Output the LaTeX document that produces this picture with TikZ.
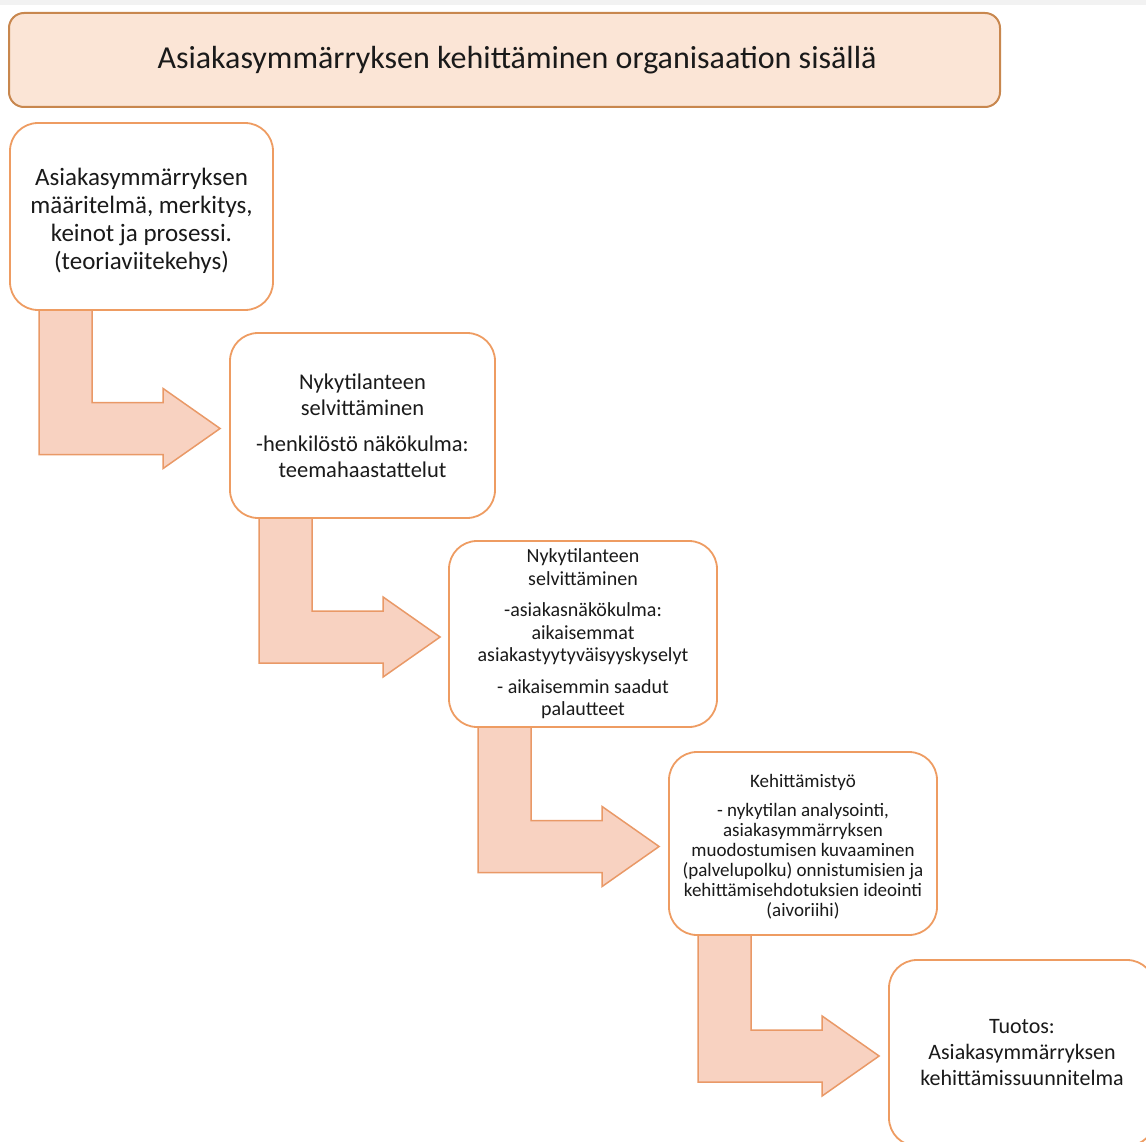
\documentclass[tikz,border=0pt]{standalone}
\usepackage{fontspec}
\setmainfont{Carlito}
\usetikzlibrary{calc,backgrounds}

\definecolor{titlefill}{HTML}{FBE5D6}
\definecolor{titleedge}{HTML}{C8874E}
\definecolor{boxedge}{HTML}{EE9C62}
\definecolor{arrowfill}{HTML}{F8D2C1}
\definecolor{arrowedge}{HTML}{E99967}
\definecolor{ink}{HTML}{1A1A1A}
\definecolor{topband}{HTML}{F2F2F2}

\tikzset{
  stepbox/.style={draw=boxedge, line width=1.8pt, rounded corners=28pt,
    fill=white, align=center, text=ink, inner sep=0pt},
  titlebox/.style={draw=titleedge, fill=titlefill, line width=2pt,
    rounded corners=15pt, text=ink, inner sep=0pt},
  bentarrow/.style={draw=arrowedge, fill=arrowfill, line width=1.5pt,
    line join=miter},
}
\newcommand\fsz[2]{\fontsize{#1pt}{#2pt}\selectfont}

% L-shaped block arrow: down out of box #1, then right into box #2
\newcommand\bendarrow[2]{%
  \draw[bentarrow] let \p1=(#1.south west), \p2=($(#2.west)+(0,3)$) in
    (\x1+30pt,\y1+2pt) -- (\x1+83pt,\y1+2pt) -- (\x1+83pt,\y2+26pt)
    -- (\x1+154pt,\y2+26pt) -- (\x1+154pt,\y2+40pt) -- (\x1+211pt,\y2)
    -- (\x1+154pt,\y2-40pt) -- (\x1+154pt,\y2-26pt) -- (\x1+30pt,\y2-26pt)
    -- cycle;}

\begin{document}
\begin{tikzpicture}[x=1pt, y=-1pt]
  \useasboundingbox (0,0) rectangle (1146,1142);
  \clip (0,0) rectangle (1146,1142);
  \fill[topband] (0,0) rectangle (1146,5);

  % heading
  \node[titlebox, minimum width=991, minimum height=94,
        font=\fsz{32}{36}] (t) at (504.5,60)
        {\hspace*{25pt}Asiakasymmärryksen kehittäminen organisaation sisällä};

  % process steps
  \node[stepbox, minimum width=263, minimum height=187,
        font=\fsz{25}{28}] (b1) at (141.5,216.5)
        {\rule{0pt}{27pt}Asiakasymmärryksen\\määritelmä, merkitys,\\keinot ja prosessi.\\(teoriaviitekehys)};

  \node[stepbox, minimum width=265, minimum height=185,
        font=\fsz{22.5}{26}] (b2) at (362.5,425.5)
        {Nykytilanteen\\selvittäminen\\[10pt]-henkilöstö näkökulma:\\teemahaastattelut};

  \node[stepbox, minimum width=268, minimum height=186,
        font=\fsz{20}{22.5}] (b3) at (583,634)
        {Nykytilanteen\\selvittäminen\\[9pt]-asiakasnäkökulma:\\aikaisemmat\\asiakastyytyväisyyskyselyt\\[9pt]- aikaisemmin saadut\\palautteet};

  \node[stepbox, minimum width=268, minimum height=183,
        font=\fsz{19}{20}] (b4) at (803,843.5)
        {\rule{0pt}{20pt}Kehittämistyö\\[9pt]- nykytilan analysointi,\\asiakasymmärryksen\\muodostumisen kuvaaminen\\(palvelupolku) onnistumisien ja\\kehittämisehdotuksien ideointi\\(aivoriihi)};

  \node[stepbox, minimum width=266, minimum height=186,
        font=\fsz{22}{26}] (b5) at (1022,1053)
        {Tuotos:\\Asiakasymmärryksen\\kehittämissuunnitelma};

  % block arrows behind the boxes
  \begin{scope}[on background layer]
    \bendarrow{b1}{b2}
    \bendarrow{b2}{b3}
    \bendarrow{b3}{b4}
    \bendarrow{b4}{b5}
  \end{scope}
\end{tikzpicture}
\end{document}
